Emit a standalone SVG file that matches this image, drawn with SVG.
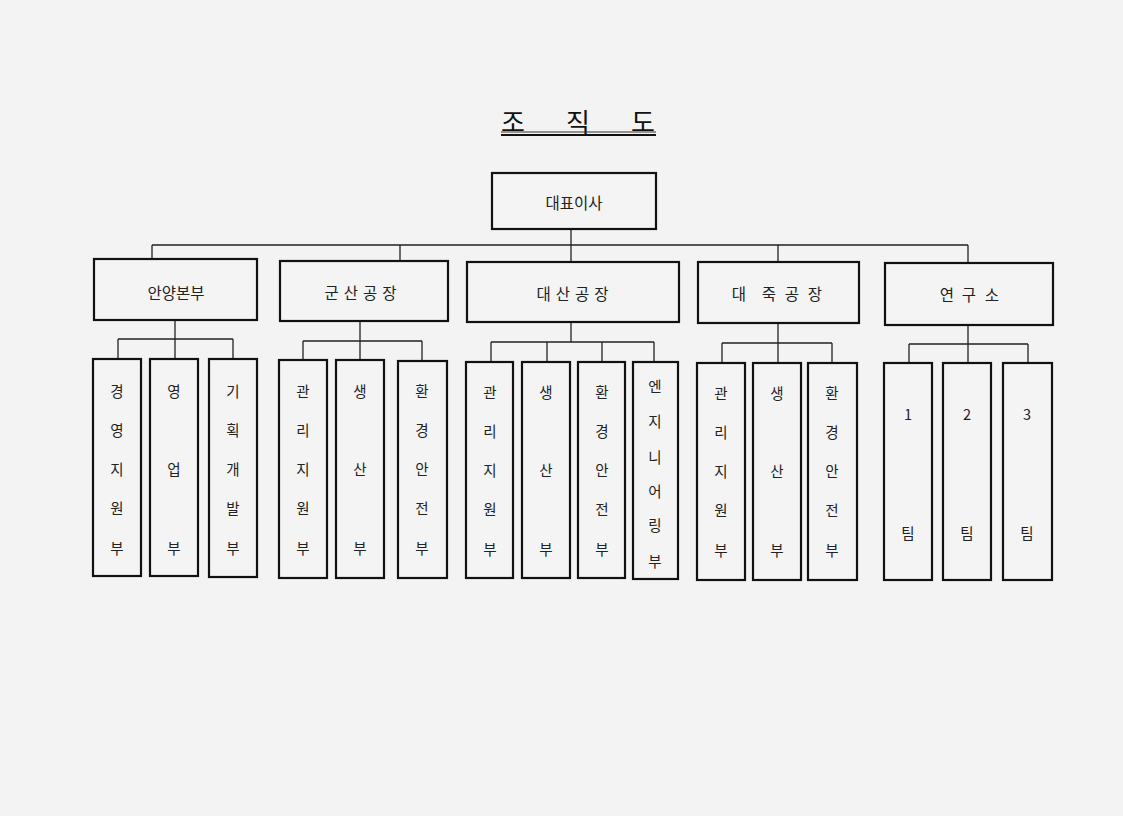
<svg xmlns="http://www.w3.org/2000/svg" width="1123" height="816" viewBox="0 0 1123 816">
<style>
.box{fill:#f4f4f4;stroke:#111;stroke-width:2.2}
.ln{fill:none;stroke:#222;stroke-width:1.3}
text{font-family:"Noto Sans CJK KR","Noto Sans",sans-serif;fill:#222;text-anchor:middle;dominant-baseline:central}
.t2{font-size:15.5px}
.lf{font-size:14.5px}
.ttl{font-size:26px;fill:#111}
</style>
<rect x="0" y="0" width="1123" height="816" fill="#f3f3f3"/>
<g id="title">
<text class="ttl" x="513" y="120">조</text>
<text class="ttl" x="578" y="120">직</text>
<text class="ttl" x="643" y="120">도</text>
<line x1="501" y1="132" x2="656" y2="132" stroke="#333" stroke-width="1"/>
<line x1="501" y1="135" x2="656" y2="135" stroke="#111" stroke-width="2"/>
</g>
<g id="connectors">
<path class="ln" d="M571 229V245M152 245H968M152 245V259M400 245V261M571 245V262M778 245V262M968 245V263"/>
<path class="ln" d="M175 320V339M118 339H233M118 339V359M175 339V359M233 339V359"/>
<path class="ln" d="M360 321V341M303 341H422M303 341V360M360 341V360M422 341V361"/>
<path class="ln" d="M571 322V342M491 342H654M491 342V362M547 342V362M602 342V362M654 342V362"/>
<path class="ln" d="M778 323V343M722 343H832M722 343V363M778 343V363M832 343V363"/>
<path class="ln" d="M968 325V344M909 344H1028M909 344V363M968 344V363M1028 344V363"/>
</g>
<g id="ceo">
<rect class="box" x="492" y="173" width="164" height="56"/>
<text class="t2" x="574" y="202">대표이사</text>
</g>
<g id="anyang">
<rect class="box" x="94" y="259" width="163" height="61"/>
<text class="t2" x="176" y="292">안양본부</text>
</g>
<g id="gunsan">
<rect class="box" x="280" y="261" width="168" height="60"/>
<text class="t2" x="363" y="292" letter-spacing="5">군산공장</text>
</g>
<g id="daesan">
<rect class="box" x="467" y="262" width="212" height="60"/>
<text class="t2" x="575" y="293" letter-spacing="5">대산공장</text>
</g>
<g id="daejuk">
<rect class="box" x="698" y="262" width="161" height="61"/>
<text class="t2" x="739" y="293">대</text>
<text class="t2" x="769" y="293">죽</text>
<text class="t2" x="792" y="293">공</text>
<text class="t2" x="815" y="293">장</text>
</g>
<g id="lab">
<rect class="box" x="885" y="263" width="168" height="62"/>
<text class="t2" x="947" y="294">연</text>
<text class="t2" x="969" y="294">구</text>
<text class="t2" x="992" y="294">소</text>
</g>
<g id="ay1">
<rect class="box" x="93" y="359" width="48" height="217"/>
<text class="lf" x="117" y="390">경</text><text class="lf" x="117" y="429">영</text><text class="lf" x="117" y="468">지</text><text class="lf" x="117" y="507">원</text><text class="lf" x="117" y="547">부</text>
</g>
<g id="ay2">
<rect class="box" x="150" y="359" width="48" height="217"/>
<text class="lf" x="174" y="390">영</text><text class="lf" x="174" y="468">업</text><text class="lf" x="174" y="547">부</text>
</g>
<g id="ay3">
<rect class="box" x="209" y="359" width="48" height="218"/>
<text class="lf" x="233" y="390">기</text><text class="lf" x="233" y="429">획</text><text class="lf" x="233" y="468">개</text><text class="lf" x="233" y="507">발</text><text class="lf" x="233" y="547">부</text>
</g>
<g id="gs1">
<rect class="box" x="279" y="360" width="48" height="218"/>
<text class="lf" x="303" y="390">관</text><text class="lf" x="303" y="429">리</text><text class="lf" x="303" y="468">지</text><text class="lf" x="303" y="507">원</text><text class="lf" x="303" y="547">부</text>
</g>
<g id="gs2">
<rect class="box" x="336" y="360" width="48" height="218"/>
<text class="lf" x="360" y="390">생</text><text class="lf" x="360" y="468">산</text><text class="lf" x="360" y="547">부</text>
</g>
<g id="gs3">
<rect class="box" x="398" y="361" width="49" height="217"/>
<text class="lf" x="422" y="390">환</text><text class="lf" x="422" y="429">경</text><text class="lf" x="422" y="468">안</text><text class="lf" x="422" y="507">전</text><text class="lf" x="422" y="547">부</text>
</g>
<g id="ds1">
<rect class="box" x="466" y="362" width="47" height="216"/>
<text class="lf" x="490" y="391">관</text><text class="lf" x="490" y="430">리</text><text class="lf" x="490" y="469">지</text><text class="lf" x="490" y="508">원</text><text class="lf" x="490" y="548">부</text>
</g>
<g id="ds2">
<rect class="box" x="522" y="362" width="48" height="216"/>
<text class="lf" x="546" y="391">생</text><text class="lf" x="546" y="469">산</text><text class="lf" x="546" y="548">부</text>
</g>
<g id="ds3">
<rect class="box" x="578" y="362" width="47" height="216"/>
<text class="lf" x="602" y="391">환</text><text class="lf" x="602" y="430">경</text><text class="lf" x="602" y="469">안</text><text class="lf" x="602" y="508">전</text><text class="lf" x="602" y="548">부</text>
</g>
<g id="ds4">
<rect class="box" x="633" y="362" width="45" height="217"/>
<text class="lf" x="655" y="385">엔</text><text class="lf" x="655" y="420">지</text><text class="lf" x="655" y="456">니</text><text class="lf" x="655" y="490">어</text><text class="lf" x="655" y="524">링</text><text class="lf" x="655" y="560">부</text>
</g>
<g id="dj1">
<rect class="box" x="697" y="363" width="48" height="217"/>
<text class="lf" x="721" y="392">관</text><text class="lf" x="721" y="431">리</text><text class="lf" x="721" y="470">지</text><text class="lf" x="721" y="509">원</text><text class="lf" x="721" y="549">부</text>
</g>
<g id="dj2">
<rect class="box" x="753" y="363" width="48" height="217"/>
<text class="lf" x="777" y="392">생</text><text class="lf" x="777" y="470">산</text><text class="lf" x="777" y="549">부</text>
</g>
<g id="dj3">
<rect class="box" x="808" y="363" width="49" height="217"/>
<text class="lf" x="832" y="392">환</text><text class="lf" x="832" y="431">경</text><text class="lf" x="832" y="470">안</text><text class="lf" x="832" y="509">전</text><text class="lf" x="832" y="549">부</text>
</g>
<g id="team1">
<rect class="box" x="884" y="363" width="48" height="217"/>
<text class="lf" x="908" y="413">1</text><text class="lf" x="908" y="532">팀</text>
</g>
<g id="team2">
<rect class="box" x="943" y="363" width="48" height="217"/>
<text class="lf" x="967" y="413">2</text><text class="lf" x="967" y="532">팀</text>
</g>
<g id="team3">
<rect class="box" x="1003" y="363" width="49" height="217"/>
<text class="lf" x="1027" y="413">3</text><text class="lf" x="1027" y="532">팀</text>
</g>
</svg>
